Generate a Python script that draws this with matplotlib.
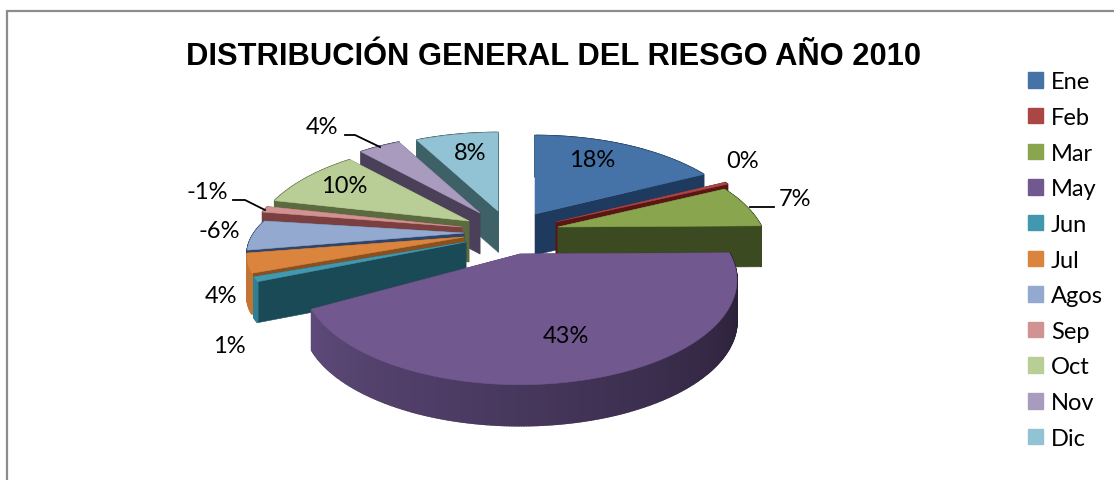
import numpy as np
import matplotlib
matplotlib.use("Agg")
import matplotlib.pyplot as plt
from matplotlib.patches import Polygon, Patch
from matplotlib.colors import to_rgb

# ---- data ----
title = "DISTRIBUCIÓN GENERAL DEL RIESGO AÑO 2010"
months = ["Ene", "Feb", "Mar", "May", "Jun", "Jul", "Agos", "Sep", "Oct", "Nov", "Dic"]
values = [18, 0.4, 7, 43, 1, 4, -6, -1, 10, 4, 8]

# ---- styles / layout ----
top_cols = ["#4573A7", "#AA4644", "#89A54E", "#71588F", "#4198AF", "#DB843D",
            "#93A9CF", "#D19392", "#B9CD96", "#A99BBD", "#92C3D4"]
side_cols = ["#1F3A5F", "#5C1515", "#3B4A20", "#3A2D4F", "#1A4A55", "#8A5020",
             "#2E4468", "#7A3F3E", "#5C6A3F", "#4A4059", "#3E6067"]
rim_cols = ["#1F3A5F", "#5C1515", "#3B4A20", None, "#2F7F95", "#C47433",
            "#2E4468", "#7A3F3E", "#5C6A3F", "#4A4059", "#3E6067"]
apex_px = [(535, 215), (556, 223), (558, 228), (520, 255), (466, 243), (464, 238),
           (464, 234), (462, 228), (469, 222), (480, 214), (498, 212)]
rx_scale = [1, 1, 0.97, 1, 1, 1, 1, 1, 1, 1, 1]
ry_scale = [1, 1, 1, 1, 0.72, 0.75, 0.8, 1, 1, 1, 1]
paint_order = [10, 9, 0, 1, 2, 8, 7, 6, 5, 4, 3]
label_px = [(592, 161), (743, 162), (795, 200), (566, 337), (229, 347), (221, 297),
            (219, 232), (207, 193), (344, 187), (322, 127), (470, 154)]
leaders = [[(750, 208), (774, 208)],
           [(233, 201), (245, 201), (265, 211)],
           [(345, 136), (355, 136), (380, 148)]]
R, RK, D, DEPTH = 210, 98, 4.0, 41

plt.rcParams["font.family"] = ["Lato", "DejaVu Sans"]
fig = plt.figure(figsize=(11.14, 4.81), dpi=100)
ax = fig.add_axes([0, 0, 1, 1])
ax.set_xlim(0, 1114)
ax.set_ylim(481, 0)
ax.axis("off")

ax.plot([7, 7, 1114], [481, 12, 12], color="#8C8C8C", lw=1.6, solid_joinstyle="miter", zorder=1)


def proj(i, deg):
    t = np.radians(deg)
    u, v = np.sin(t), -np.cos(t)
    s = D / (D - v)
    return (apex_px[i][0] + R * rx_scale[i] * u * s,
            apex_px[i][1] + RK * ry_scale[i] * v * s)


mag = np.abs(values)
edges = np.concatenate([[0], np.cumsum(mag)]) / mag.sum() * 360
z = 2
for i in paint_order:
    a0, a1 = edges[i], edges[i + 1]
    apex = apex_px[i]
    degs = np.linspace(a0, a1, max(3, int((a1 - a0) * 2)))
    arc = [proj(i, d) for d in degs]
    top = [apex] + arc
    # cut faces
    for p in (arc[0], arc[-1]):
        quad = [apex, p, (p[0], p[1] + DEPTH), (apex[0], apex[1] + DEPTH)]
        ax.add_patch(Polygon(quad, closed=True, fc=side_cols[i], ec=side_cols[i], lw=0.4, zorder=z))
    # rim
    for j in range(len(arc) - 1):
        p, q = arc[j], arc[j + 1]
        if rim_cols[i] is None:
            f = (degs[j] - a0) / (a1 - a0)
            c = (1 - f) * np.array(to_rgb("#241B30")) + f * np.array(to_rgb("#5E4A7A"))
        else:
            c = rim_cols[i]
        quad = [p, q, (q[0], q[1] + DEPTH), (p[0], p[1] + DEPTH)]
        ax.add_patch(Polygon(quad, closed=True, fc=c, ec=c, lw=1.2, zorder=z))
    ax.add_patch(Polygon(top, closed=True, fc=top_cols[i], ec=top_cols[i], lw=0.4, zorder=z + 1))
    z += 2

for v, (x, y) in zip(values, label_px):
    ax.text(x, y, f"{round(v)}%", ha="center", va="center", fontsize=17, color="black", zorder=100)
for pts in leaders:
    xs, ys = zip(*pts)
    ax.plot(xs, ys, color="black", lw=1.3, zorder=100)

ax.text(553, 57, title, ha="center", va="center", fontsize=22.2, fontweight="bold",
        family=["Liberation Sans"], color="black", zorder=100)

handles = [Patch(fc=c, ec=c) for c in top_cols]
leg = ax.legend(handles, months, loc="upper left", bbox_to_anchor=(1026 / 1114, 1 - 70 / 481),
                bbox_transform=fig.transFigure, frameon=False, fontsize=17, handlelength=0.63,
                handleheight=0.63, labelspacing=0.62, handletextpad=0.33, borderpad=0.1, borderaxespad=0)
fig.savefig("out.png", dpi=100)
